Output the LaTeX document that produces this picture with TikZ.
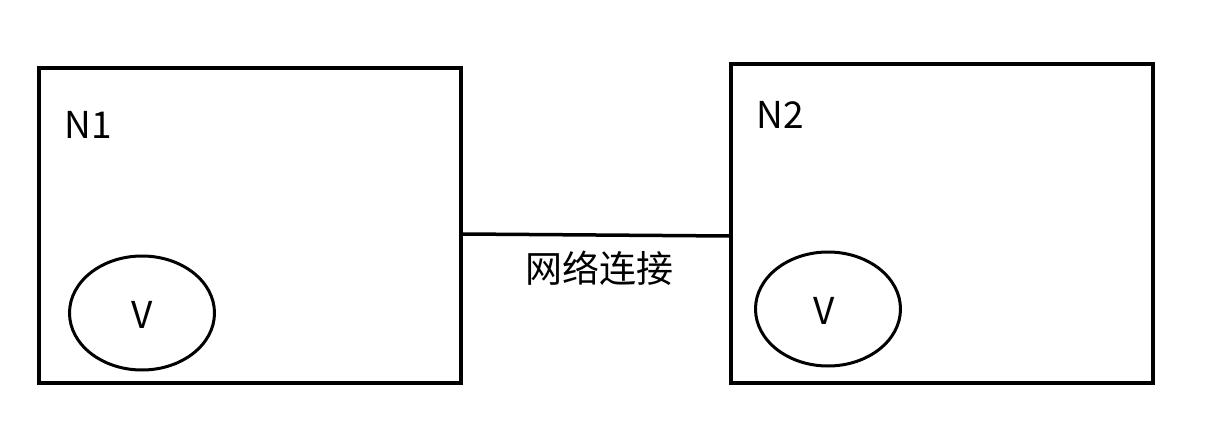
\documentclass[tikz,border=0pt]{standalone}
\usepackage{fontspec}
\usetikzlibrary{shapes.geometric}
\setmainfont{Noto Sans CJK SC}
\newfontfamily\cjk{Noto Sans CJK SC}
\begin{document}
\begin{tikzpicture}[x=1pt,y=-1pt,
  boxst/.style={draw,line width=3.5pt,inner sep=0pt,minimum width=422pt},
  ellst/.style={draw,line width=3pt,ellipse,inner sep=0pt,minimum width=145pt,minimum height=114pt},
  lbl/.style={font=\fontsize{37}{42}\selectfont,inner sep=0pt},
  line/.style={line width=3.5pt}]
\useasboundingbox (0,0) rectangle (1227,444);
\node[boxst, minimum height=315pt] (n1) at (250,225.5) {};
\node[boxst, minimum height=319pt] (n2) at (942,223.5) {};
\node[ellst] (e1) at (142,313) {};
\node[ellst] (e2) at (828,309) {};
\node[lbl] (t1) at (88,125) {N1};
\node[lbl] (t2) at (780,115) {N2};
\node[lbl] (v1) at (e1) [yshift=-2pt] {V};
\node[lbl] (v2) at (e2) [xshift=-4pt,yshift=-2pt] {V};
\coordinate (a) at (n1.east |- 0,234);
\coordinate (b) at (n2.west |- 0,236);
\draw[line] (a) -- (b);
\node[lbl,font=\cjk\fontsize{37}{42}\selectfont] (c) at (599,268) {网络连接};
\end{tikzpicture}
\end{document}
